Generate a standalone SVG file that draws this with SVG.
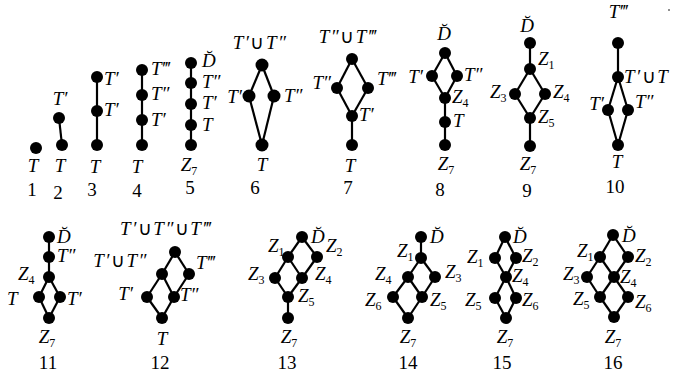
<svg xmlns="http://www.w3.org/2000/svg" width="679" height="374" viewBox="0 0 679 374">
<style>
.bg{fill:#fff}
.e line{stroke:#000;stroke-width:2.2}
circle{fill:#000}
text{font-family:"Liberation Serif",serif}
.l{font-style:italic;font-size:19px}
.c{text-anchor:middle}
.r{text-anchor:end}
.s{font-style:normal;font-size:12px}
.u{font-style:normal}
.w{letter-spacing:1.5px}
.num{font-size:19px;text-anchor:middle}
</style>
<rect class="bg" x="0" y="0" width="679" height="374"/>
<g id="connectors" class="e">
<line x1="59" y1="118" x2="62" y2="145"/>
<line x1="97" y1="77" x2="97" y2="145"/>
<line x1="142" y1="70" x2="142" y2="145"/>
<line x1="191" y1="63" x2="191" y2="145"/>
<line x1="262" y1="65" x2="249" y2="96"/><line x1="262" y1="65" x2="274" y2="96"/><line x1="249" y1="96" x2="262" y2="145"/><line x1="274" y1="96" x2="262" y2="145"/>
<line x1="352" y1="59" x2="337" y2="88"/><line x1="352" y1="59" x2="368" y2="88"/><line x1="337" y1="88" x2="352" y2="116"/><line x1="368" y1="88" x2="352" y2="116"/><line x1="352" y1="116" x2="352" y2="145"/>
<line x1="445" y1="53" x2="432" y2="76"/><line x1="445" y1="53" x2="457" y2="76"/><line x1="432" y1="76" x2="445" y2="98"/><line x1="457" y1="76" x2="445" y2="98"/><line x1="445" y1="98" x2="445" y2="145"/>
<line x1="530" y1="43" x2="530" y2="69"/><line x1="530" y1="69" x2="515" y2="94"/><line x1="530" y1="69" x2="545" y2="94"/><line x1="515" y1="94" x2="530" y2="118"/><line x1="545" y1="94" x2="530" y2="118"/><line x1="530" y1="118" x2="530" y2="146"/>
<line x1="618" y1="43" x2="618" y2="77"/><line x1="618" y1="77" x2="608" y2="110"/><line x1="618" y1="77" x2="628" y2="110"/><line x1="608" y1="110" x2="618" y2="145"/><line x1="628" y1="110" x2="618" y2="145"/>
<line x1="49" y1="237" x2="49" y2="277"/><line x1="49" y1="277" x2="39" y2="297"/><line x1="49" y1="277" x2="60" y2="297"/><line x1="39" y1="297" x2="49" y2="318"/><line x1="60" y1="297" x2="49" y2="318"/>
<line x1="175" y1="252" x2="162" y2="274"/><line x1="175" y1="252" x2="189" y2="274"/><line x1="162" y1="274" x2="147" y2="297"/><line x1="162" y1="274" x2="174" y2="297"/><line x1="189" y1="274" x2="174" y2="297"/><line x1="147" y1="297" x2="162" y2="318"/><line x1="174" y1="297" x2="162" y2="318"/>
<line x1="302" y1="237" x2="288" y2="257"/><line x1="302" y1="237" x2="317" y2="257"/><line x1="288" y1="257" x2="275" y2="278"/><line x1="288" y1="257" x2="302" y2="278"/><line x1="317" y1="257" x2="302" y2="278"/><line x1="275" y1="278" x2="288" y2="297"/><line x1="302" y1="278" x2="288" y2="297"/><line x1="288" y1="297" x2="288" y2="318"/>
<line x1="421" y1="237" x2="421" y2="258"/><line x1="421" y1="258" x2="408" y2="277"/><line x1="421" y1="258" x2="435" y2="277"/><line x1="408" y1="277" x2="393" y2="297"/><line x1="408" y1="277" x2="422" y2="297"/><line x1="435" y1="277" x2="422" y2="297"/><line x1="393" y1="297" x2="408" y2="318"/><line x1="422" y1="297" x2="408" y2="318"/>
<line x1="505" y1="237" x2="495" y2="258"/><line x1="505" y1="237" x2="516" y2="258"/><line x1="495" y1="258" x2="506" y2="277"/><line x1="516" y1="258" x2="506" y2="277"/><line x1="506" y1="277" x2="495" y2="298"/><line x1="506" y1="277" x2="516" y2="298"/><line x1="495" y1="298" x2="506" y2="318"/><line x1="516" y1="298" x2="506" y2="318"/>
<line x1="613" y1="235" x2="600" y2="257"/><line x1="613" y1="235" x2="628" y2="257"/><line x1="600" y1="257" x2="587" y2="277"/><line x1="600" y1="257" x2="614" y2="277"/><line x1="628" y1="257" x2="614" y2="277"/><line x1="587" y1="277" x2="600" y2="297"/><line x1="614" y1="277" x2="600" y2="297"/><line x1="614" y1="277" x2="628" y2="297"/><line x1="600" y1="297" x2="614" y2="317"/><line x1="628" y1="297" x2="614" y2="317"/>
</g>
<g id="d1"><circle cx="36" cy="148" r="6"/><text class="l c" x="33" y="172">T</text></g>
<g id="d2"><circle cx="59" cy="118" r="6"/><circle cx="62" cy="145" r="6"/><text class="l c" x="60" y="105">T′</text><text class="l c" x="60" y="172">T</text></g>
<g id="d3"><circle cx="97" cy="77" r="6"/><circle cx="97" cy="111" r="6"/><circle cx="97" cy="145" r="6"/><text class="l" x="104" y="85">T′</text><text class="l" x="104" y="116">T′</text><text class="l c" x="95" y="173">T</text></g>
<g id="d4"><circle cx="142" cy="70" r="6"/><circle cx="142" cy="95" r="6"/><circle cx="142" cy="120" r="6"/><circle cx="142" cy="145" r="6"/><text class="l" x="151" y="75">T‴</text><text class="l" x="151" y="100">T″</text><text class="l" x="151" y="126">T′</text><text class="l c" x="137" y="173">T</text></g>
<g id="d5"><circle cx="191" cy="63" r="6"/><circle cx="191" cy="83" r="6"/><circle cx="191" cy="104" r="6"/><circle cx="191" cy="125" r="6"/><circle cx="191" cy="145" r="6"/><text class="l" x="202" y="67">D̆</text><text class="l" x="202" y="88">T″</text><text class="l" x="202" y="109">T′</text><text class="l" x="202" y="131">T</text><text class="l c" x="189" y="171">Z<tspan class="s" dy="4">7</tspan></text></g>
<g id="d6"><circle cx="262" cy="65" r="6.5"/><circle cx="249" cy="96" r="6.5"/><circle cx="274" cy="96" r="6.5"/><circle cx="262" cy="145" r="6.5"/><text class="l c w" x="260" y="49">T′<tspan class="u">∪</tspan>T″</text><text class="l r" x="242" y="103">T′</text><text class="l" x="284" y="102">T″</text><text class="l c" x="262" y="171">T</text></g>
<g id="d7"><circle cx="352" cy="59" r="6"/><circle cx="337" cy="88" r="6"/><circle cx="368" cy="88" r="6"/><circle cx="352" cy="116" r="6"/><circle cx="352" cy="145" r="6"/><text class="l c w" x="348" y="43">T″<tspan class="u">∪</tspan>T‴</text><text class="l r" x="331" y="89">T″</text><text class="l" x="377" y="85">T‴</text><text class="l" x="359" y="121">T′</text><text class="l c" x="350" y="172">T</text></g>
<g id="d8"><circle cx="445" cy="53" r="6"/><circle cx="432" cy="76" r="6"/><circle cx="457" cy="76" r="6"/><circle cx="445" cy="98" r="6"/><circle cx="445" cy="122" r="6"/><circle cx="445" cy="145" r="6"/><text class="l c" x="444" y="40">D̆</text><text class="l r" x="423" y="83">T′</text><text class="l" x="464" y="81">T″</text><text class="l" x="452" y="103">Z<tspan class="s" dy="4">4</tspan></text><text class="l" x="453" y="127">T</text><text class="l c" x="446" y="170">Z<tspan class="s" dy="4">7</tspan></text></g>
<g id="d9"><circle cx="530" cy="43" r="6"/><circle cx="530" cy="69" r="6"/><circle cx="515" cy="94" r="6"/><circle cx="545" cy="94" r="6"/><circle cx="530" cy="118" r="6"/><circle cx="530" cy="146" r="6"/><text class="l c" x="527" y="32">D̆</text><text class="l" x="538" y="65">Z<tspan class="s" dy="4">1</tspan></text><text class="l" x="490" y="98">Z<tspan class="s" dy="4">3</tspan></text><text class="l" x="553" y="98">Z<tspan class="s" dy="4">4</tspan></text><text class="l" x="538" y="123">Z<tspan class="s" dy="4">5</tspan></text><text class="l c" x="528" y="170">Z<tspan class="s" dy="4">7</tspan></text></g>
<g id="d10"><circle cx="618" cy="43" r="6"/><circle cx="618" cy="77" r="6"/><circle cx="608" cy="110" r="6"/><circle cx="628" cy="110" r="6"/><circle cx="618" cy="145" r="6"/><text class="l c" x="618" y="18">T‴</text><text class="l w" x="624" y="83">T′<tspan class="u">∪</tspan>T</text><text class="l r" x="604" y="110">T′</text><text class="l" x="635" y="108">T″</text><text class="l c" x="617" y="168">T</text></g>
<g id="speck"><circle cx="669" cy="10" r="0.8"/></g>
<g id="d11"><circle cx="49" cy="237" r="6"/><circle cx="49" cy="257" r="6"/><circle cx="49" cy="277" r="6"/><circle cx="39" cy="297" r="6"/><circle cx="60" cy="297" r="6"/><circle cx="49" cy="318" r="6"/><text class="l" x="57" y="243">D̆</text><text class="l" x="57" y="262">T″</text><text class="l" x="18" y="280">Z<tspan class="s" dy="4">4</tspan></text><text class="l" x="7" y="305">T</text><text class="l" x="67" y="305">T′</text><text class="l c" x="47" y="343">Z<tspan class="s" dy="4">7</tspan></text></g>
<g id="d12"><circle cx="175" cy="252" r="6"/><circle cx="162" cy="274" r="6"/><circle cx="189" cy="274" r="6"/><circle cx="147" cy="297" r="6"/><circle cx="174" cy="297" r="6"/><circle cx="162" cy="318" r="6"/><text class="l c w" x="166" y="235">T′<tspan class="u">∪</tspan>T″<tspan class="u">∪</tspan>T‴</text><text class="l r w" x="148" y="267">T′<tspan class="u">∪</tspan>T″</text><text class="l" x="196" y="269">T‴</text><text class="l r" x="133" y="300">T′</text><text class="l" x="180" y="301">T″</text><text class="l c" x="162" y="345">T</text></g>
<g id="d13"><circle cx="302" cy="237" r="6"/><circle cx="288" cy="257" r="6"/><circle cx="317" cy="257" r="6"/><circle cx="275" cy="278" r="6"/><circle cx="302" cy="278" r="6"/><circle cx="288" cy="297" r="6"/><circle cx="288" cy="318" r="6"/><text class="l" x="268" y="252">Z<tspan class="s" dy="4">1</tspan></text><text class="l" x="311" y="243">D̆</text><text class="l" x="326" y="252">Z<tspan class="s" dy="4">2</tspan></text><text class="l" x="248" y="280">Z<tspan class="s" dy="4">3</tspan></text><text class="l" x="315" y="280">Z<tspan class="s" dy="4">4</tspan></text><text class="l" x="298" y="302">Z<tspan class="s" dy="4">5</tspan></text><text class="l c" x="289" y="343">Z<tspan class="s" dy="4">7</tspan></text></g>
<g id="d14"><circle cx="421" cy="237" r="6"/><circle cx="421" cy="258" r="6"/><circle cx="408" cy="277" r="6"/><circle cx="435" cy="277" r="6"/><circle cx="393" cy="297" r="6"/><circle cx="422" cy="297" r="6"/><circle cx="408" cy="318" r="6"/><text class="l" x="430" y="243">D̆</text><text class="l" x="397" y="257">Z<tspan class="s" dy="4">1</tspan></text><text class="l" x="375" y="280">Z<tspan class="s" dy="4">4</tspan></text><text class="l" x="445" y="278">Z<tspan class="s" dy="4">3</tspan></text><text class="l" x="365" y="306">Z<tspan class="s" dy="4">6</tspan></text><text class="l" x="430" y="306">Z<tspan class="s" dy="4">5</tspan></text><text class="l c" x="408" y="343">Z<tspan class="s" dy="4">7</tspan></text></g>
<g id="d15"><circle cx="505" cy="237" r="6"/><circle cx="495" cy="258" r="6"/><circle cx="516" cy="258" r="6"/><circle cx="506" cy="277" r="6"/><circle cx="495" cy="298" r="6"/><circle cx="516" cy="298" r="6"/><circle cx="506" cy="318" r="6"/><text class="l" x="513" y="243">D̆</text><text class="l" x="467" y="263">Z<tspan class="s" dy="4">1</tspan></text><text class="l" x="522" y="262">Z<tspan class="s" dy="4">2</tspan></text><text class="l" x="512" y="282">Z<tspan class="s" dy="4">4</tspan></text><text class="l" x="465" y="306">Z<tspan class="s" dy="4">5</tspan></text><text class="l" x="522" y="306">Z<tspan class="s" dy="4">6</tspan></text><text class="l c" x="505" y="343">Z<tspan class="s" dy="4">7</tspan></text></g>
<g id="d16"><circle cx="613" cy="235" r="6"/><circle cx="600" cy="257" r="6"/><circle cx="628" cy="257" r="6"/><circle cx="587" cy="277" r="6"/><circle cx="614" cy="277" r="6"/><circle cx="600" cy="297" r="6"/><circle cx="628" cy="297" r="6"/><circle cx="614" cy="317" r="6"/><text class="l" x="622" y="242">D̆</text><text class="l" x="577" y="257">Z<tspan class="s" dy="4">1</tspan></text><text class="l" x="635" y="262">Z<tspan class="s" dy="4">2</tspan></text><text class="l" x="563" y="280">Z<tspan class="s" dy="4">3</tspan></text><text class="l" x="620" y="283">Z<tspan class="s" dy="4">4</tspan></text><text class="l" x="573" y="305">Z<tspan class="s" dy="4">5</tspan></text><text class="l" x="635" y="308">Z<tspan class="s" dy="4">6</tspan></text><text class="l c" x="613" y="343">Z<tspan class="s" dy="4">7</tspan></text></g>
<g id="captions">
<text class="num" x="32" y="196">1</text><text class="num" x="58" y="199">2</text><text class="num" x="92" y="196">3</text><text class="num" x="137" y="197">4</text><text class="num" x="190" y="194">5</text>
<text class="num" x="255" y="194">6</text><text class="num" x="348" y="194">7</text><text class="num" x="440" y="196">8</text><text class="num" x="527" y="197">9</text><text class="num" x="615" y="193">10</text>
<text class="num" x="48" y="369">11</text><text class="num" x="160" y="369">12</text><text class="num" x="287" y="369">13</text><text class="num" x="408" y="369">14</text><text class="num" x="502" y="369">15</text><text class="num" x="613" y="369">16</text>
</g>
</svg>
